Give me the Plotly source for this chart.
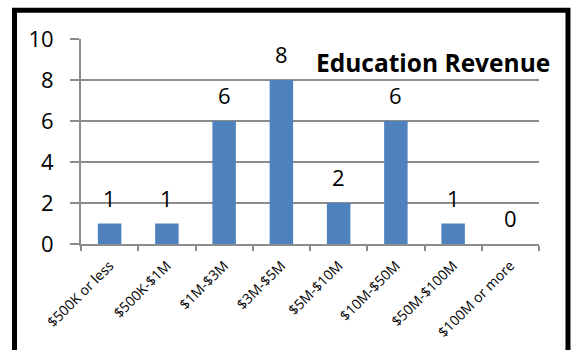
import plotly.graph_objects as go

# Revenue bands and number of organisations in each
categories = ["$500K or less", "$500K-$1M", "$1M-$3M", "$3M-$5M",
              "$5M-$10M", "$10M-$50M", "$50M-$100M", "$100M or more"]
counts = [1, 1, 6, 8, 2, 6, 1, 0]
y_ticks = [0, 2, 4, 6, 8, 10]
chart_title = "Education Revenue"

FONT = "Open Sans"
BAR_BLUE = "#4f81bd"
GRID = "#8c8c8c"

fig = go.Figure()
fig.add_trace(go.Bar(
    x=categories,
    y=counts,
    width=0.41,
    marker=dict(color=BAR_BLUE, line=dict(width=0)),
    hoverinfo="x+y",
))

# value labels above each bar
for cat, val in zip(categories, counts):
    fig.add_annotation(
        x=cat, y=val, text=str(val), showarrow=False,
        xanchor="center", yanchor="bottom", yshift=9,
        font=dict(family=FONT, size=22, color="#000000"),
    )

fig.add_annotation(
    x=0.7686, y=0.885, xref="paper", yref="paper",
    text="<b>" + chart_title + "</b>", showarrow=False,
    xanchor="center", yanchor="middle",
    font=dict(family=FONT, size=24.5, color="#000000"),
)

# black frame around the chart
fig.add_shape(
    type="rect", xref="paper", yref="paper",
    x0=-0.1452, x1=1.0633, y0=-1.0, y1=1.1397,
    line=dict(color="#000000", width=5), fillcolor="rgba(0,0,0,0)",
    layer="above",
)

fig.update_layout(
    width=571, height=350,
    margin=dict(l=81, r=32, t=39, b=106, pad=0, autoexpand=False),
    paper_bgcolor="#ffffff", plot_bgcolor="#ffffff",
    showlegend=False,
    bargap=0.59,
    font=dict(family=FONT, color="#000000"),
)
fig.update_xaxes(
    type="category",
    automargin=False,
    tickangle=-45,
    tickfont=dict(family=FONT, size=14, color="#000000"),
    ticklabelstandoff=6,
    showline=True, linecolor=GRID, linewidth=2,
    ticks="outside", tickson="boundaries", ticklen=5, tickwidth=2, tickcolor=GRID,
    showgrid=False,
)
fig.update_yaxes(
    range=[0, 10],
    automargin=False,
    tickvals=y_ticks,
    tickfont=dict(family=FONT, size=22, color="#000000"),
    ticklabelstandoff=12,
    showline=True, linecolor=GRID, linewidth=2,
    ticks="outside", ticklen=9, tickwidth=2, tickcolor=GRID,
    showgrid=True, gridcolor=GRID, gridwidth=2,
    zeroline=False,
)

fig.write_html("out.html")
